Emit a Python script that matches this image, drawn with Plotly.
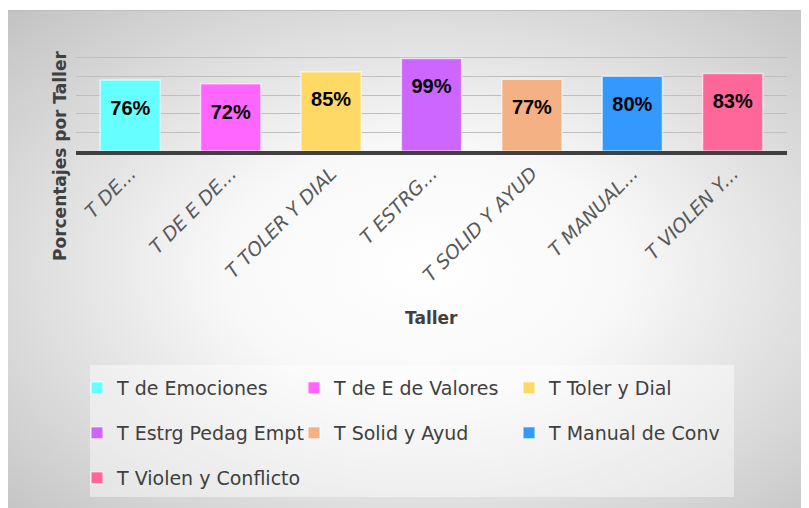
import base64
import plotly.graph_objects as go

# ---- data ----
categories = ["T DE...", "T DE E DE...", "T TOLER Y DIAL", "T ESTRG...",
              "T SOLID Y AYUD", "T MANUAL...", "T VIOLEN Y..."]
series_names = ["T de Emociones", "T de E de Valores", "T Toler y Dial",
                "T Estrg Pedag Empt", "T Solid y Ayud", "T Manual de Conv",
                "T Violen y Conflicto"]
values = [0.76, 0.72, 0.85, 0.99, 0.77, 0.80, 0.83]
labels = ["76%", "72%", "85%", "99%", "77%", "80%", "83%"]
colors = ["#66FFFF", "#FF66FF", "#FFD966", "#CC66FF", "#F4B183", "#3399FF", "#FF6699"]

# legend grid (3 columns, page pixel positions of text start / row centre)
legend_cols = [117, 334, 549]
legend_rows_y = [388, 433, 478]

OFF = 8  # browser body margin
W, H = 809 - OFF, 508 - OFF
ML, MT = 76 - OFF, 39 - OFF
MR = W - (787 - OFF)
MB = H - (151 - OFF)
PW, PH = W - ML - MR, H - MT - MB

def px(x):  # page px -> paper x
    return (x - OFF - ML) / PW

def py(y):  # page px -> paper y
    return (H - MB - (y - OFF)) / PH

def cx(x):  # page px -> container x
    return (x - OFF) / W

def cy(y):  # page px -> container y
    return 1 - (y - OFF) / H

FONT = "DejaVu Sans"
TXT = "#404040"

fig = go.Figure()
legends = {}
for i in range(len(categories)):
    lname = "legend" if i == 0 else f"legend{i + 1}"
    fig.add_trace(go.Bar(
        x=[categories[i]], y=[values[i]], name=series_names[i],
        marker=dict(color=colors[i], line=dict(color="rgba(255,255,255,0.6)", width=1.5)),
        legend=lname, hoverinfo="skip",
    ))
    col, row = i % 3, i // 3
    legends[lname] = dict(
        x=cx(legend_cols[col] - 40), y=cy(legend_rows_y[row]),
        xref="container", yref="container", xanchor="left", yanchor="middle",
        orientation="v", bgcolor="rgba(0,0,0,0)", itemwidth=30,
        font=dict(family=FONT, size=19, color=TXT))

fig.add_trace(go.Scatter(
    x=categories, y=values, text=labels, mode="markers+text",
    textposition="bottom center",
    marker=dict(size=30, opacity=0),
    textfont=dict(family="Liberation Sans", size=20, color="#000000", weight="bold"),
    showlegend=False, hoverinfo="skip", cliponaxis=False,
))

svg = '''<svg xmlns="http://www.w3.org/2000/svg" width="801" height="498" viewBox="0 0 801 498" preserveAspectRatio="none">
<defs><radialGradient id="g" cx="0.52" cy="0.52" r="0.72" gradientUnits="objectBoundingBox">
<stop offset="0" stop-color="#ffffff"/><stop offset="0.35" stop-color="#f8f8f8"/>
<stop offset="0.8" stop-color="#d4d4d4"/><stop offset="1" stop-color="#c4c4c4"/></radialGradient></defs>
<rect x="0" y="0" width="801" height="498" fill="url(#g)"/>
<line x1="0" y1="0.5" x2="801" y2="0.5" stroke="#bdbdbd" stroke-width="1"/>
</svg>'''
src = "data:image/svg+xml;base64," + base64.b64encode(svg.encode()).decode()

fig.update_layout(
    width=W, height=H,
    margin=dict(l=ML, r=MR, t=MT, b=MB, pad=0, autoexpand=False),
    paper_bgcolor="#ffffff", plot_bgcolor="rgba(0,0,0,0)",
    barmode="overlay", bargap=0.4,
    font=dict(family=FONT, color=TXT),
    images=[dict(source=src, xref="paper", yref="paper", x=px(8), y=py(10),
                 sizex=801 / PW, sizey=498 / PH, xanchor="left", yanchor="top",
                 sizing="stretch", layer="below")],
    shapes=[dict(type="rect", xref="paper", yref="paper", x0=px(90), x1=px(734),
                 y0=py(497), y1=py(365), fillcolor="rgba(255,255,255,0.45)",
                 line=dict(width=0), layer="below")],
    annotations=[
        dict(text="Porcentajes por Taller", xref="paper", yref="paper", x=px(60), y=py(156),
             textangle=-90, showarrow=False, xanchor="center", yanchor="middle",
             font=dict(family=FONT, size=17, color=TXT, weight="bold")),
        dict(text="Taller", xref="paper", yref="paper", x=px(431), y=py(318),
             showarrow=False, xanchor="center", yanchor="middle",
             font=dict(family=FONT, size=17, color=TXT, weight="bold")),
    ],
    showlegend=True,
    **legends,
)

fig.update_xaxes(showline=True, linecolor="#404040", linewidth=4, ticks="",
                 tickangle=-45, showgrid=False, automargin=False,
                 tickfont=dict(family=FONT, size=19, color="#595959", style="italic"))
fig.update_yaxes(range=[0, 1.2], dtick=0.2, showticklabels=False, showgrid=True,
                 automargin=False,
                 gridcolor="#bfbfbf", gridwidth=1, zeroline=False, showline=False, ticks="")

fig.write_html("out.html")
